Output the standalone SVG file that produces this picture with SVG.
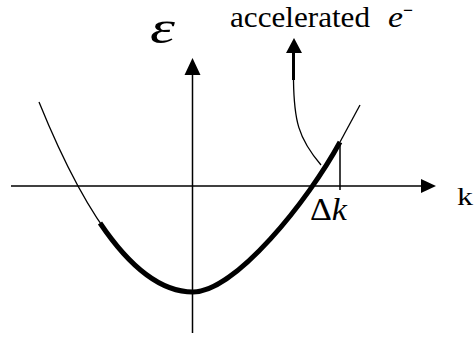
<svg xmlns="http://www.w3.org/2000/svg" width="474" height="337" viewBox="0 0 474 337">
<style>
.ln{fill:none;stroke:#000;stroke-width:1.5}
.thin{fill:none;stroke:#000;stroke-width:1.3}
.thick{fill:none;stroke:#000;stroke-width:5;stroke-linecap:butt}
.hd{fill:#000;stroke:none}
.t{font-family:"Liberation Serif","Times New Roman",serif;fill:#000}
</style>
<rect width="474" height="337" fill="#fff"/>
<g id="connectors">
<g id="k-axis">
<line class="ln" x1="11" y1="186" x2="422" y2="186"/>
<polygon class="hd" points="436,186 421,179 421,193"/>
</g>
<g id="e-axis">
<line class="ln" x1="192.5" y1="333" x2="192.5" y2="74"/>
<polygon class="hd" points="192.5,58 184.5,75 200.5,75"/>
</g>
<g id="accel-arrow">
<path class="thin" d="M321,165 C298,138 294,120 293.5,80"/>
<path d="M293.5,80 L293.5,52" stroke="#000" stroke-width="3" fill="none"/>
<polygon class="hd" points="294,38 286,53 302,53"/>
</g>
<line id="dk-tick" class="ln" x1="340" y1="143" x2="340" y2="190"/>
</g>
<g id="band">
<path class="thin" d="M193,292 Q116,292 39,102"/>
<path class="thin" d="M340,142 L360,105"/>
<path class="thick" d="M100,223 Q146.5,292 193,292 C235,292 308,201 340,142"/>
</g>
<g id="labels">
<text id="eps" class="t" x="150" y="43" font-size="46" font-style="italic" textLength="25" lengthAdjust="spacingAndGlyphs">ε</text>
<text id="accel" class="t" x="230" y="27" font-size="30" textLength="140" lengthAdjust="spacingAndGlyphs">accelerated</text>
<text id="electron" class="t" x="388" y="27" font-size="30" font-style="italic" textLength="15" lengthAdjust="spacingAndGlyphs">e</text>
<text id="minus" class="t" x="403" y="17" font-size="20" font-weight="bold" textLength="10" lengthAdjust="spacingAndGlyphs">−</text>
<text id="k" class="t" x="457" y="205" font-size="26" textLength="16" lengthAdjust="spacingAndGlyphs">k</text>
<text id="dk" class="t" x="310" y="220" font-size="31" textLength="37" lengthAdjust="spacingAndGlyphs">Δ<tspan font-style="italic">k</tspan></text>
</g>
</svg>
